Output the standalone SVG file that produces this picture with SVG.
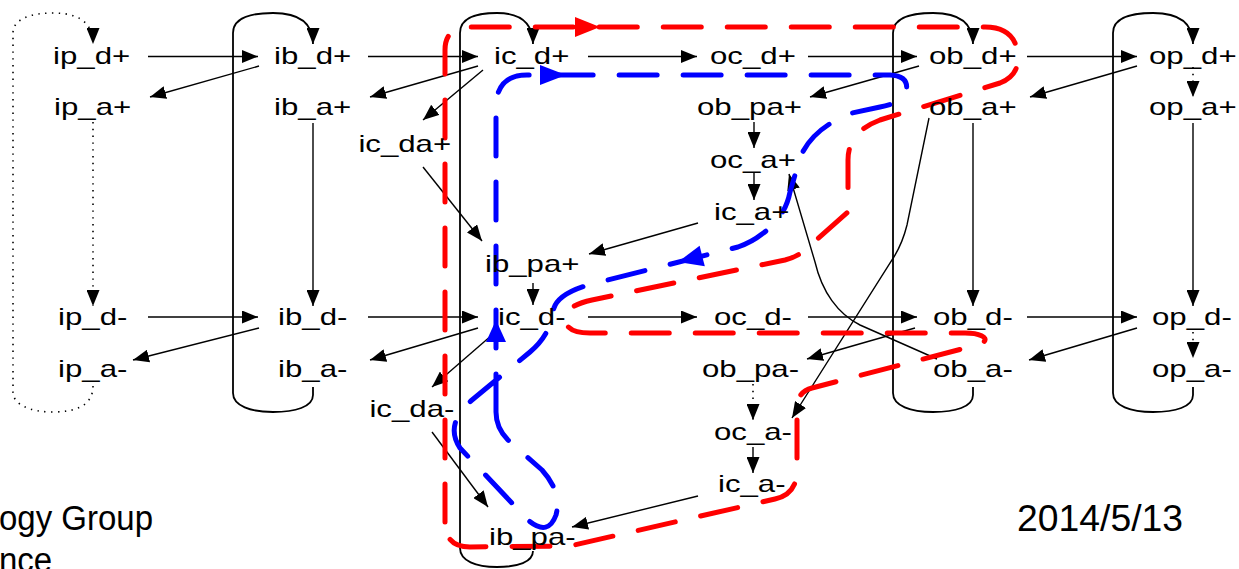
<svg xmlns="http://www.w3.org/2000/svg" width="1239" height="569" viewBox="0 0 1239 569">
<style>
.lbl{font-family:"Liberation Sans",Arial,sans-serif;font-size:24px;fill:#000}
.big{font-family:"Liberation Sans",Arial,sans-serif;font-size:33px;fill:#000}
.date{font-family:"Liberation Sans",Arial,sans-serif;font-size:36px;fill:#000}
.ln{fill:none;stroke:#000;stroke-width:1.4}
.cap{fill:none;stroke:#000;stroke-width:1.8}
.dot{fill:none;stroke:#000;stroke-width:1.6;stroke-dasharray:1.4 5.4}
.red{fill:none;stroke:#f00;stroke-width:5;stroke-dasharray:38 26;stroke-linecap:round;stroke-linejoin:round}
.blue{fill:none;stroke:#00f;stroke-width:5;stroke-dasharray:38 26;stroke-linecap:round;stroke-linejoin:round}
</style>
<defs>
<marker id="ah" viewBox="0 0 16 13" refX="16" refY="6.5" markerWidth="16" markerHeight="13" markerUnits="userSpaceOnUse" orient="auto">
<path d="M0,0 L16,6.5 L0,13 z" fill="#000"/>
</marker>
</defs>
<rect width="1239" height="569" fill="#fff"/>
<g id="connectors">
<path class="cap" marker-end="url(#ah)" d="M313,387 L313,395 C313,407 295,412 273,412 C251,412 233,406 233,393 L233,33 C233,17 253,13 273,13 C295,13 313,20 313,44"/>
<path class="cap" marker-end="url(#ah)" d="M533,551 C533,562 518,567 497,567 C476,567 460,561 460,548 L460,33 C460,17 478,13 497,13 C517,13 533,20 533,44"/>
<path class="cap" marker-end="url(#ah)" d="M973,387 L973,395 C973,407 955,412 933,412 C911,412 893,406 893,393 L893,33 C893,17 913,13 933,13 C955,13 973,20 973,44"/>
<path class="cap" marker-end="url(#ah)" d="M1193,387 L1193,395 C1193,407 1175,412 1153,412 C1131,412 1113,406 1113,393 L1113,33 C1113,17 1133,13 1153,13 C1175,13 1193,20 1193,44"/>
<path class="dot" marker-end="url(#ah)" d="M93,386 C93,406 75,412 53,412 C31,412 13,405 13,392 L13,33 C13,18 33,13 53,13 C75,13 93,20 93,44"/>
<path class="dot" marker-end="url(#ah)" d="M93,122 V306"/>
<path class="dot" marker-end="url(#ah)" d="M753,384 V420"/>
<path class="dot" marker-end="url(#ah)" d="M1193,67 V97"/>
<path class="dot" marker-end="url(#ah)" d="M1193,332 V358"/>
<path class="ln" marker-end="url(#ah)" d="M148,56.5 H258"/>
<path class="ln" marker-end="url(#ah)" d="M368,56.5 H478"/>
<path class="ln" marker-end="url(#ah)" d="M588,56.5 H697"/>
<path class="ln" marker-end="url(#ah)" d="M808,56.5 H917"/>
<path class="ln" marker-end="url(#ah)" d="M1027,56.5 H1137"/>
<path class="ln" marker-end="url(#ah)" d="M148,317 H258"/>
<path class="ln" marker-end="url(#ah)" d="M368,317 H478"/>
<path class="ln" marker-end="url(#ah)" d="M588,317 H697"/>
<path class="ln" marker-end="url(#ah)" d="M808,317 H917"/>
<path class="ln" marker-end="url(#ah)" d="M1027,317 H1137"/>
<path class="ln" marker-end="url(#ah)" d="M259,66 L150,97"/>
<path class="ln" marker-end="url(#ah)" d="M478,66 L370,97"/>
<path class="ln" marker-end="url(#ah)" d="M919,66 L810,97"/>
<path class="ln" marker-end="url(#ah)" d="M1137,66 L1030,97"/>
<path class="ln" marker-end="url(#ah)" d="M259,328 L133,360"/>
<path class="ln" marker-end="url(#ah)" d="M478,328 L370,360"/>
<path class="ln" marker-end="url(#ah)" d="M915,328 L807,359"/>
<path class="ln" marker-end="url(#ah)" d="M1137,328 L1029,360"/>
<path class="ln" marker-end="url(#ah)" d="M483,70 L423,120"/>
<path class="ln" marker-end="url(#ah)" d="M423,167 L482,241"/>
<path class="ln" marker-end="url(#ah)" d="M492,335 L432,387"/>
<path class="ln" marker-end="url(#ah)" d="M432,432 L488,507"/>
<path class="ln" marker-end="url(#ah)" d="M698,223 L589,254"/>
<path class="ln" marker-end="url(#ah)" d="M698,496 L572,527"/>
<path class="ln" marker-end="url(#ah)" d="M313,123 V306"/>
<path class="ln" marker-end="url(#ah)" d="M533,283 V305"/>
<path class="ln" marker-end="url(#ah)" d="M754,122 V148"/>
<path class="ln" marker-end="url(#ah)" d="M754,173 V200"/>
<path class="ln" marker-end="url(#ah)" d="M753,447 V473"/>
<path class="ln" marker-end="url(#ah)" d="M973,123 V306"/>
<path class="ln" marker-end="url(#ah)" d="M1193,123 V306"/>
<path class="ln" marker-end="url(#ah)" d="M929,118 L907,225 Q902,245 892,260 L792,418"/>
<path class="ln" marker-end="url(#ah)" d="M937,359 L860,325 C838,314 822,292 815,262 L789,174"/>
<path class="red" d="M445,522 L445,50 Q445,27 470,27 L985,27 C1010,27 1018,42 1018,58 C1018,72 1010,79 1000,83 L880,120 Q848,132 848,160 L848,212 L805,250 Q797,257 785,260 L592,300 Q565,306 565,318 Q565,333 590,333 L965,333 C985,333 992,341 977,345 L812,388 Q797,392 797,408 L797,470 Q797,494 775,499 L570,546 L470,547 Q445,547 445,522 Z"/>
<polygon points="575,17 600,27 575,37" fill="#f00"/>
<path class="blue" d="M496,412 L496,108 Q496,75 527,75 L890,75 Q910,76 906,92 Q902,103 880,107 L852,113 Q812,128 800,158 L790,192 Q785,218 762,234 Q752,242 738,247 L592,284 Q555,294 553,312 Q550,335 530,352 L472,400 Q444,424 460,448 L528,520 Q548,537 556,515 Q562,492 542,470 L508,440 Q496,428 496,412 Z"/>
<polygon points="540,65 566,75 540,85" fill="#00f"/>
<polygon points="678,262 699.6,245.8 704.8,266.2" fill="#00f"/>
<polygon points="496,320 486,342 506,342" fill="#00f"/>
</g>
<g id="ip-dp"><text class="lbl" x="53" y="64" textLength="77.2" lengthAdjust="spacingAndGlyphs">ip_d+</text></g>
<g id="ib-dp"><text class="lbl" x="274" y="64" textLength="77.2" lengthAdjust="spacingAndGlyphs">ib_d+</text></g>
<g id="ic-dp"><text class="lbl" x="494" y="64" textLength="75.4" lengthAdjust="spacingAndGlyphs">ic_d+</text></g>
<g id="oc-dp"><text class="lbl" x="710" y="64" textLength="85.9" lengthAdjust="spacingAndGlyphs">oc_d+</text></g>
<g id="ob-dp"><text class="lbl" x="929" y="64" textLength="87.6" lengthAdjust="spacingAndGlyphs">ob_d+</text></g>
<g id="op-dp"><text class="lbl" x="1149" y="64" textLength="87.6" lengthAdjust="spacingAndGlyphs">op_d+</text></g>
<g id="ip-ap"><text class="lbl" x="54" y="115" textLength="77.2" lengthAdjust="spacingAndGlyphs">ip_a+</text></g>
<g id="ib-ap"><text class="lbl" x="274" y="115" textLength="77.2" lengthAdjust="spacingAndGlyphs">ib_a+</text></g>
<g id="ob-pap"><text class="lbl" x="697" y="115" textLength="105" lengthAdjust="spacingAndGlyphs">ob_pa+</text></g>
<g id="ob-ap"><text class="lbl" x="929" y="115" textLength="87.6" lengthAdjust="spacingAndGlyphs">ob_a+</text></g>
<g id="op-ap"><text class="lbl" x="1149" y="115" textLength="87.6" lengthAdjust="spacingAndGlyphs">op_a+</text></g>
<g id="ic-dap"><text class="lbl" x="358.4" y="152" textLength="92.8" lengthAdjust="spacingAndGlyphs">ic_da+</text></g>
<g id="oc-ap"><text class="lbl" x="710" y="168" textLength="85.9" lengthAdjust="spacingAndGlyphs">oc_a+</text></g>
<g id="ic-ap"><text class="lbl" x="714" y="220" textLength="75.4" lengthAdjust="spacingAndGlyphs">ic_a+</text></g>
<g id="ib-pap"><text class="lbl" x="485" y="272" textLength="94.5" lengthAdjust="spacingAndGlyphs">ib_pa+</text></g>
<g id="ip-dm"><text class="lbl" x="58" y="325" textLength="69.4" lengthAdjust="spacingAndGlyphs">ip_d-</text></g>
<g id="ib-dm"><text class="lbl" x="278" y="325" textLength="69.4" lengthAdjust="spacingAndGlyphs">ib_d-</text></g>
<g id="ic-dm"><text class="lbl" x="498" y="325" textLength="67.6" lengthAdjust="spacingAndGlyphs">ic_d-</text></g>
<g id="oc-dm"><text class="lbl" x="714" y="325" textLength="78" lengthAdjust="spacingAndGlyphs">oc_d-</text></g>
<g id="ob-dm"><text class="lbl" x="933" y="325" textLength="79.8" lengthAdjust="spacingAndGlyphs">ob_d-</text></g>
<g id="op-dm"><text class="lbl" x="1152" y="325" textLength="79.8" lengthAdjust="spacingAndGlyphs">op_d-</text></g>
<g id="ip-am"><text class="lbl" x="58" y="377" textLength="69.4" lengthAdjust="spacingAndGlyphs">ip_a-</text></g>
<g id="ib-am"><text class="lbl" x="278" y="377" textLength="69.4" lengthAdjust="spacingAndGlyphs">ib_a-</text></g>
<g id="ob-pam"><text class="lbl" x="702" y="377" textLength="97.1" lengthAdjust="spacingAndGlyphs">ob_pa-</text></g>
<g id="ob-am"><text class="lbl" x="933" y="377" textLength="79.8" lengthAdjust="spacingAndGlyphs">ob_a-</text></g>
<g id="op-am"><text class="lbl" x="1152" y="377" textLength="79.8" lengthAdjust="spacingAndGlyphs">op_a-</text></g>
<g id="ic-dam"><text class="lbl" x="369.4" y="417" textLength="85" lengthAdjust="spacingAndGlyphs">ic_da-</text></g>
<g id="oc-am"><text class="lbl" x="714" y="440" textLength="78" lengthAdjust="spacingAndGlyphs">oc_a-</text></g>
<g id="ic-am"><text class="lbl" x="718" y="492" textLength="67.6" lengthAdjust="spacingAndGlyphs">ic_a-</text></g>
<g id="ib-pam"><text class="lbl" x="489" y="545" textLength="86.7" lengthAdjust="spacingAndGlyphs">ib_pa-</text></g>
<g id="footer">
<text class="big" transform="translate(-1,530) scale(1,1.08)" x="0" y="0">ogy Group</text>
<text class="big" transform="translate(-1,572) scale(1,1.08)" x="0" y="0">nce</text>
<text class="date" x="1017" y="531" textLength="166" lengthAdjust="spacingAndGlyphs">2014/5/13</text>
</g>
</svg>
